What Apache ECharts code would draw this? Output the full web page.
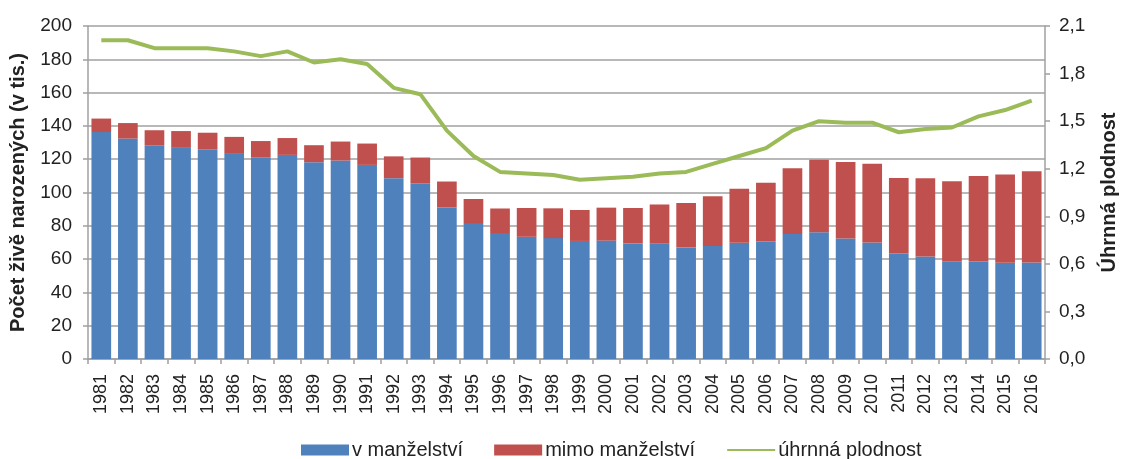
<!DOCTYPE html>
<html><head><meta charset="utf-8">
<script src="https://cdn.jsdelivr.net/npm/echarts@6/dist/echarts.min.js"></script>
<style>html,body{margin:0;padding:0;background:#fff}#c{width:1127px;height:459px}</style>
</head><body><div id="c"></div>
<script>
const years = ['1981','1982','1983','1984','1985','1986','1987','1988','1989','1990','1991','1992','1993','1994','1995','1996','1997','1998','1999','2000','2001','2002','2003','2004','2005','2006','2007','2008','2009','2010','2011','2012','2013','2014','2015','2016'];
const inMarriage = [136.3,132.4,128.2,126.8,126.0,123.2,121.2,122.6,118.2,119.2,116.6,108.6,105.6,91.0,81.1,75.1,73.4,72.6,70.9,71.1,69.4,69.3,67.0,67.8,69.8,70.6,75.1,76.2,72.4,70.0,63.3,61.5,58.7,58.6,57.8,57.9];
const outOfMarriage = [8.1,9.3,9.2,10.1,9.9,10.2,9.7,10.1,10.2,11.4,12.8,13.1,15.4,15.6,15.0,15.3,17.3,17.9,18.6,19.8,21.3,23.5,26.7,29.9,32.4,35.2,39.5,43.4,45.9,47.2,45.4,47.1,48.1,51.3,53.0,54.8];
const fertility = [2.01,2.01,1.96,1.96,1.96,1.94,1.91,1.94,1.87,1.89,1.86,1.71,1.67,1.44,1.28,1.18,1.17,1.16,1.13,1.14,1.15,1.17,1.18,1.23,1.28,1.33,1.44,1.50,1.49,1.49,1.43,1.45,1.46,1.53,1.57,1.63];

const font = 'Liberation Sans, Arial, sans-serif';
const chart = echarts.init(document.getElementById('c'));
chart.setOption({
  animation: false,
  textStyle: {fontFamily: font},
  grid: {left: 88, right: 75, top: 26, bottom: 100, containLabel: false},
  legend: {
    left: 296, top: 435, itemWidth: 48, itemHeight: 11, itemGap: 31,
    textStyle: {fontSize: 20, color: '#222', fontFamily: font, padding: [0, 0, 0, -2]},
    data: [
      {name: 'v manželství', icon: 'rect'},
      {name: 'mimo manželství', icon: 'rect'},
      {name: 'úhrnná plodnost', itemStyle: {opacity: 0}}
    ]
  },
  xAxis: {
    type: 'category', data: years, boundaryGap: true,
    axisLine: {lineStyle: {color: '#a0a0a0', width: 1.5}},
    axisTick: {show: true, length: 5, lineStyle: {color: '#a0a0a0', width: 1.5}},
    axisLabel: {rotate: 90, fontSize: 18, color: '#222', margin: 15, interval: 0}
  },
  yAxis: [
    {
      type: 'value', min: 0, max: 200, interval: 20,
      name: 'Počet živě narozených (v tis.)', nameLocation: 'middle', nameGap: 60, nameRotate: 90,
      nameTextStyle: {fontSize: 20, fontWeight: 'bold', color: '#222'},
      axisLine: {show: true, lineStyle: {color: '#a0a0a0', width: 1.5}},
      axisTick: {show: true, length: 5, lineStyle: {color: '#a0a0a0', width: 1.5}},
      axisLabel: {fontSize: 19, color: '#222', margin: 16},
      splitLine: {lineStyle: {color: '#a0a0a0', width: 1.5}}
    },
    {
      type: 'value', min: 0, max: 2.1, interval: 0.3, position: 'right',
      name: 'Úhrnná plodnost', nameLocation: 'middle', nameGap: 54, nameRotate: 90,
      nameTextStyle: {fontSize: 20, fontWeight: 'bold', color: '#222'},
      axisLine: {show: true, lineStyle: {color: '#a0a0a0', width: 1.5}},
      axisTick: {show: true, length: 5, lineStyle: {color: '#a0a0a0', width: 1.5}},
      axisLabel: {fontSize: 19, color: '#222', margin: 14, formatter: v => v.toFixed(1).replace('.', ',')},
      splitLine: {show: false}
    }
  ],
  series: [
    {name: 'v manželství', type: 'bar', stack: 'b', data: inMarriage, barCategoryGap: '26%',
     itemStyle: {color: '#4F81BD'}},
    {name: 'mimo manželství', type: 'bar', stack: 'b', data: outOfMarriage,
     itemStyle: {color: '#C0504D'}},
    {name: 'úhrnná plodnost', type: 'line', yAxisIndex: 1, data: fertility, showSymbol: false, symbol: 'none',
     lineStyle: {color: '#9BBB59', width: 4}, itemStyle: {color: '#9BBB59'}, z: 5}
  ]
});
</script></body></html>
